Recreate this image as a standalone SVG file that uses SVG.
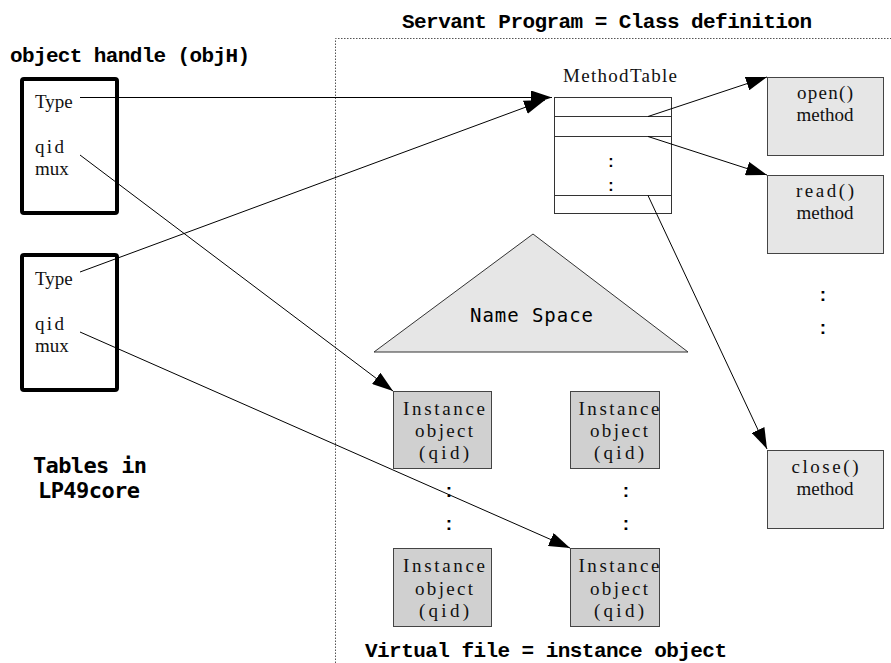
<svg xmlns="http://www.w3.org/2000/svg" width="891" height="663" viewBox="0 0 891 663">
  <style>
    .heading { font-family: "Liberation Mono", "DejaVu Sans Mono", monospace; font-weight: bold; font-size: 21px; fill: #000; }
    .gothic { font-family: "DejaVu Sans Mono", "Liberation Mono", monospace; fill: #000; }
    .lbl { font-family: "Liberation Serif", "DejaVu Serif", serif; font-size: 19px; fill: #111; }
    .mid { text-anchor: middle; }
    .dots { font-family: "Liberation Sans", Arial, sans-serif; font-weight: bold; fill: #000; text-anchor: middle; }
    .handle { fill: #fff; stroke: #000; stroke-width: 4; }
    .method { fill: #e6e6e6; stroke: #444; stroke-width: 1; }
    .inst { fill: #d0d0d0; stroke: #444; stroke-width: 1; }
    .table { fill: #fff; stroke: #333; stroke-width: 1; }
    .edge { fill: none; stroke: #000; stroke-width: 1; }
    .frame { fill: none; stroke: #555; stroke-width: 1; stroke-dasharray: 1.5 1.5; }
  </style>
  <defs>
    <marker id="arrow" markerUnits="userSpaceOnUse" markerWidth="21" markerHeight="14" refX="21" refY="7" orient="auto">
      <path d="M0,0 L21,7 L0,14 Z" fill="#000"/>
    </marker>
  </defs>

  <rect width="891" height="663" fill="#fff"/>

  <!-- servant program frame -->
  <g id="servant-frame">
    <path class="frame" d="M335.5,663 V38.5 H891"/>
    <text class="heading" x="402" y="28" textLength="410" lengthAdjust="spacing">Servant Program = Class definition</text>
  </g>

  <!-- captions -->
  <text class="heading" x="10" y="62" textLength="240" lengthAdjust="spacing">object handle (objH)</text>
  <g id="caption-tables">
    <text class="gothic" x="33" y="473" font-size="22" font-weight="bold" textLength="114" lengthAdjust="spacing">Tables in</text>
    <text class="gothic" x="38" y="498" font-size="22" font-weight="bold" textLength="102" lengthAdjust="spacing">LP49core</text>
  </g>
  <text class="heading" x="365" y="657" textLength="362" lengthAdjust="spacing">Virtual file = instance object</text>

  <!-- object handles -->
  <g id="handle-1">
    <rect class="handle" x="22" y="79" width="95" height="134" rx="2"/>
    <text class="lbl" x="35" y="108">Type</text>
    <text class="lbl" x="35" y="153" textLength="29" lengthAdjust="spacing">qid</text>
    <text class="lbl" x="35" y="175">mux</text>
  </g>
  <g id="handle-2">
    <rect class="handle" x="22" y="255" width="95" height="135" rx="2"/>
    <text class="lbl" x="35" y="285">Type</text>
    <text class="lbl" x="35" y="330" textLength="29" lengthAdjust="spacing">qid</text>
    <text class="lbl" x="35" y="352">mux</text>
  </g>

  <!-- method table -->
  <g id="method-table">
    <text class="lbl mid" x="620" y="82" textLength="114" lengthAdjust="spacing">MethodTable</text>
    <rect class="table" x="554.5" y="97.5" width="117" height="116"/>
    <path class="table" d="M554.5,116.5 H671.5 M554.5,136.5 H671.5 M554.5,195.5 H671.5"/>
    <text class="dots" x="611" y="167" font-size="16">:</text>
    <text class="dots" x="611" y="191" font-size="16">:</text>
  </g>

  <!-- methods -->
  <g id="method-open">
    <rect class="method" x="767.5" y="77.5" width="116" height="78"/>
    <text class="lbl mid" x="825" y="99" textLength="56" lengthAdjust="spacing">open()</text>
    <text class="lbl mid" x="825" y="121">method</text>
  </g>
  <g id="method-read">
    <rect class="method" x="767.5" y="175.5" width="116" height="78"/>
    <text class="lbl mid" x="825" y="197" textLength="58" lengthAdjust="spacing">read()</text>
    <text class="lbl mid" x="825" y="219">method</text>
  </g>
  <g id="method-more">
    <text class="dots" x="823" y="301" font-size="19">:</text>
    <text class="dots" x="823" y="334" font-size="19">:</text>
  </g>
  <g id="method-close">
    <rect class="method" x="767.5" y="450.5" width="116" height="78"/>
    <text class="lbl mid" x="825" y="473" textLength="67" lengthAdjust="spacing">close()</text>
    <text class="lbl mid" x="825" y="495">method</text>
  </g>

  <!-- name space -->
  <g id="name-space">
    <polygon points="533,234 688,352 374,352" fill="#e6e6e6" stroke="#333" stroke-width="1"/>
    <text class="gothic" x="470" y="322" font-size="19" textLength="123" lengthAdjust="spacing">Name Space</text>
  </g>

  <!-- instance objects -->
  <g id="instance-1">
    <rect class="inst" x="393.5" y="391.5" width="98" height="77"/>
    <text class="lbl mid" x="444" y="415" textLength="82" lengthAdjust="spacing">Instance</text>
    <text class="lbl mid" x="444" y="437" textLength="58" lengthAdjust="spacing">object</text>
    <text class="lbl mid" x="444" y="459" textLength="50" lengthAdjust="spacing">(qid)</text>
  </g>
  <g id="instance-2">
    <rect class="inst" x="570.5" y="391.5" width="89" height="77"/>
    <text class="lbl mid" x="619" y="415" textLength="81" lengthAdjust="spacing">Instance</text>
    <text class="lbl mid" x="619" y="437" textLength="58" lengthAdjust="spacing">object</text>
    <text class="lbl mid" x="619" y="459" textLength="50" lengthAdjust="spacing">(qid)</text>
  </g>
  <g id="instance-3">
    <rect class="inst" x="393.5" y="548.5" width="98" height="78"/>
    <text class="lbl mid" x="444" y="572" textLength="82" lengthAdjust="spacing">Instance</text>
    <text class="lbl mid" x="444" y="595" textLength="58" lengthAdjust="spacing">object</text>
    <text class="lbl mid" x="444" y="617" textLength="50" lengthAdjust="spacing">(qid)</text>
  </g>
  <g id="instance-4">
    <rect class="inst" x="570.5" y="548.5" width="89" height="78"/>
    <text class="lbl mid" x="619" y="572" textLength="81" lengthAdjust="spacing">Instance</text>
    <text class="lbl mid" x="619" y="595" textLength="58" lengthAdjust="spacing">object</text>
    <text class="lbl mid" x="619" y="617" textLength="50" lengthAdjust="spacing">(qid)</text>
  </g>
  <g id="instance-more">
    <text class="dots" x="449" y="497" font-size="19">:</text>
    <text class="dots" x="449" y="530" font-size="19">:</text>
    <text class="dots" x="626" y="497" font-size="19">:</text>
    <text class="dots" x="626" y="530" font-size="19">:</text>
  </g>

  <!-- connectors -->
  <g id="connectors">
    <line class="edge" x1="80" y1="97.5" x2="552" y2="97.5" marker-end="url(#arrow)"/>
    <line class="edge" x1="80" y1="272" x2="545" y2="100" marker-end="url(#arrow)"/>
    <line class="edge" x1="80" y1="155" x2="393" y2="391" marker-end="url(#arrow)"/>
    <line class="edge" x1="80" y1="332" x2="570" y2="548" marker-end="url(#arrow)"/>
    <line class="edge" x1="648" y1="116.5" x2="767" y2="77" marker-end="url(#arrow)"/>
    <line class="edge" x1="648" y1="136.5" x2="767" y2="175" marker-end="url(#arrow)"/>
    <line class="edge" x1="648" y1="195.5" x2="767" y2="449" marker-end="url(#arrow)"/>
  </g>
</svg>
